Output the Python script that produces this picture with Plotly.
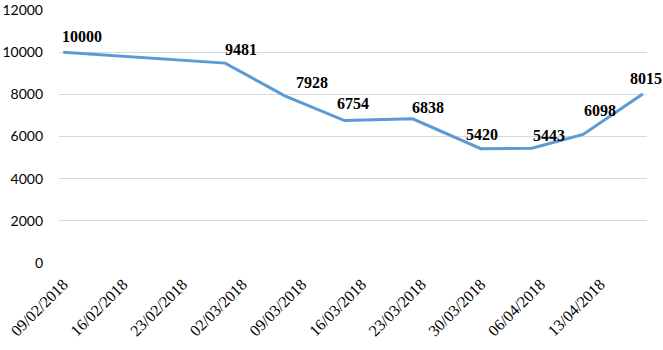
import plotly.graph_objects as go
from datetime import datetime, timedelta

# Weekly readings
dates = ["2018-02-09", "2018-02-28", "2018-03-07", "2018-03-14", "2018-03-22",
         "2018-03-30", "2018-04-05", "2018-04-11", "2018-04-18"]
values = [10000, 9481, 7928, 6754, 6838, 5420, 5443, 6098, 8015]

# Axis ticks: one per week starting at the first reading
first_tick = "2018-02-09"
tick_step_days = 7
y_ticks = [0, 2000, 4000, 6000, 8000, 10000, 12000]

# Nudges (px) for each value label relative to its point
label_shift = [(19, 16), (16, 14), (27, 13), (9, 17), (15, 11),
               (1, 14), (17, 13), (17, 24), (3, 16)]

fig = go.Figure()
fig.add_trace(go.Scatter(
    x=dates, y=values, mode="lines",
    line=dict(color="#5B9BD5", width=3),
    hoverinfo="x+y", showlegend=False,
))

for d, v, (dx, dy) in zip(dates, values, label_shift):
    fig.add_annotation(
        x=d, y=v, text=f"<b>{v}</b>", showarrow=False,
        xanchor="center", yanchor="middle", xshift=dx, yshift=dy,
        font=dict(family="Liberation Serif", size=16, color="#000000"),
    )

start = datetime.fromisoformat(dates[0]) - timedelta(hours=12)
end = datetime.fromisoformat(dates[-1]) + timedelta(hours=12)

fig.update_layout(
    width=663, height=350,
    margin=dict(l=59, r=16, t=10, b=87, autoexpand=False),
    plot_bgcolor="white", paper_bgcolor="white",
    xaxis=dict(
        type="date", range=[start, end], automargin=False,
        tick0=first_tick, dtick=tick_step_days * 86400000,
        tickformat="%d/%m/%Y", tickangle=-45,
        showgrid=False, zeroline=False, showline=False,
        ticks="", ticklabelstandoff=8,
        tickfont=dict(family="Liberation Serif", size=16, color="#000000"),
    ),
    yaxis=dict(
        range=[0, 12000], tickvals=y_ticks, tickformat="d", automargin=False,
        showgrid=True, gridcolor="#D9D9D9", gridwidth=1,
        zeroline=False, showline=False, ticks="",
        ticklabelstandoff=15,
        tickfont=dict(family="Lato", size=14, color="#000000"),
    ),
)

fig.write_html("out.html")
